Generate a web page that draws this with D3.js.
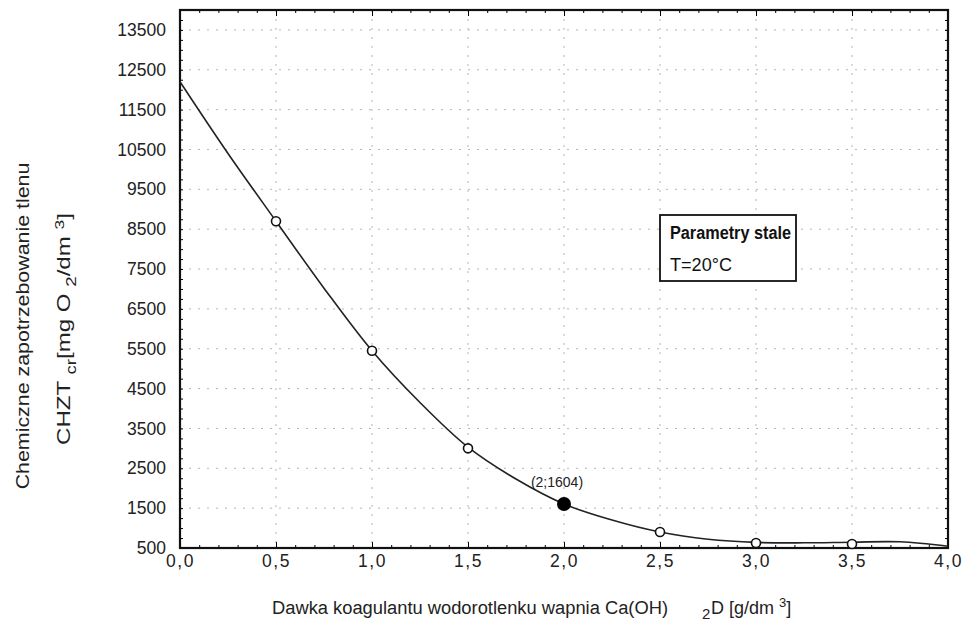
<!DOCTYPE html>
<html><head><meta charset="utf-8">
<script src="https://cdn.jsdelivr.net/npm/d3@7"></script>
<style>body{margin:0;background:#fff}svg{display:block}</style>
</head><body>
<svg id="c" width="965" height="623"></svg>
<script>
// measured points
const doseX = [0.5, 1.0, 1.5, 2.5, 3.0, 3.5];
const codY  = [8700, 5450, 3000, 900, 625, 600];
// highlighted point
const optX = [2];
const optY = [1604];
const optLabel = ["(2;1604)"];
// fitted curve
const fitX = [0, 0.25, 0.5, 0.75, 1.0, 1.25, 1.5, 1.75, 2.0, 2.25, 2.5, 2.75, 3.0, 3.25, 3.5, 3.75, 4.0];
const fitY = [12200, 10400, 8700, 7020, 5450, 4150, 3030, 2230, 1604, 1200, 900, 720, 640, 630, 645, 655, 545];
const xTicks = [0, 0.5, 1.0, 1.5, 2.0, 2.5, 3.0, 3.5, 4.0];
const yTicks = [500, 1500, 2500, 3500, 4500, 5500, 6500, 7500, 8500, 9500, 10500, 11500, 12500, 13500];
const legendTitle = ["Parametry stale"];
const legendText = ["T=20°C"];

const svg = d3.select("#c");
const L = 180, R = 948, T = 10, B = 548;
const x = d3.scaleLinear().domain([0, 4]).range([L, R]);
const y = d3.scaleLinear().domain([500, 14000]).range([B, T]);
const font = "Arial, 'Liberation Sans', sans-serif";
const narrow = "'Liberation Sans Narrow', 'Arial Narrow', " + font;

// grid
const g = svg.append("g");
g.selectAll("line.gy").data(yTicks.slice(1)).join("line")
  .attr("x1", L).attr("x2", R).attr("y1", d => y(d)).attr("y2", d => y(d))
  .attr("stroke", "#b5b5b5").attr("stroke-width", 1).attr("stroke-dasharray", "2,7");
g.selectAll("line.gx").data(xTicks.slice(1, -1)).join("line")
  .attr("y1", T).attr("y2", B).attr("x1", d => x(d)).attr("x2", d => x(d))
  .attr("stroke", "#b5b5b5").attr("stroke-width", 1).attr("stroke-dasharray", "2,7");

// minor ticks (inward) on all sides
const minorY = d3.range(500, 14001, 250);
const minorX = d3.range(0, 4.001, 0.1);
svg.append("g").attr("transform", `translate(${L},0)`)
  .call(d3.axisRight(y).tickValues(minorY).tickSize(3).tickFormat(""))
  .call(s => s.select(".domain").remove());
svg.append("g").attr("transform", `translate(${R},0)`)
  .call(d3.axisLeft(y).tickValues(minorY).tickSize(3).tickFormat(""))
  .call(s => s.select(".domain").remove());
svg.append("g").attr("transform", `translate(0,${B})`)
  .call(d3.axisTop(x).tickValues(minorX).tickSize(3).tickFormat(""))
  .call(s => s.select(".domain").remove());
svg.append("g").attr("transform", `translate(0,${T})`)
  .call(d3.axisBottom(x).tickValues(minorX).tickSize(3).tickFormat(""))
  .call(s => s.select(".domain").remove());
svg.append("g").attr("transform", `translate(0,${B})`)
  .call(d3.axisTop(x).tickValues(xTicks).tickSize(6).tickFormat(""))
  .call(s => s.select(".domain").remove());
svg.append("g").attr("transform", `translate(0,${T})`)
  .call(d3.axisBottom(x).tickValues(xTicks).tickSize(6).tickFormat(""))
  .call(s => s.select(".domain").remove());

// tick labels
const yAx = svg.append("g").attr("transform", `translate(${L},0)`)
  .call(d3.axisLeft(y).tickValues(yTicks).tickSize(0).tickPadding(14).tickFormat(d3.format("d")));
yAx.select(".domain").remove();
yAx.selectAll("text").attr("font-family", font).attr("font-size", 17.5).attr("fill", "#222");
const xAx = svg.append("g").attr("transform", `translate(0,${B})`)
  .call(d3.axisBottom(x).tickValues(xTicks).tickSize(0).tickPadding(7)
    .tickFormat(d => d3.format(".1f")(d).replace(".", ",")));
xAx.select(".domain").remove();
xAx.selectAll("text").attr("font-family", font).attr("font-size", 17.5).attr("fill", "#222")
  .attr("letter-spacing", "1.5px");

// frame
svg.append("rect").attr("x", L).attr("y", T).attr("width", R - L).attr("height", B - T)
  .attr("fill", "none").attr("stroke", "#111").attr("stroke-width", 2.2);

// fitted curve
const line = d3.line().x((d, i) => x(fitX[i])).y((d, i) => y(fitY[i])).curve(d3.curveCatmullRom);
svg.append("path").datum(fitY).attr("d", line).attr("fill", "none")
  .attr("stroke", "#222").attr("stroke-width", 1.6);

// measured points
svg.selectAll("circle.m").data(codY).join("circle")
  .attr("cx", (d, i) => x(doseX[i])).attr("cy", d => y(d)).attr("r", 4.5)
  .attr("fill", "#fff").attr("stroke", "#111").attr("stroke-width", 1.6);
svg.selectAll("circle.o").data(optY).join("circle")
  .attr("cx", (d, i) => x(optX[i])).attr("cy", d => y(d)).attr("r", 7).attr("fill", "#000");
svg.selectAll("text.o").data(optLabel).join("text")
  .attr("x", (d, i) => x(optX[i]) - 7).attr("y", (d, i) => y(optY[i]) - 17)
  .attr("text-anchor", "middle").attr("font-family", font).attr("font-size", 14).attr("fill", "#222")
  .text(d => d);

// legend box
const lg = svg.append("g");
lg.append("rect").attr("x", 660).attr("y", 215).attr("width", 136).attr("height", 66)
  .attr("fill", "#fff").attr("stroke", "#111").attr("stroke-width", 1.8);
lg.append("text").attr("x", 670).attr("y", 239).attr("font-family", narrow)
  .attr("font-weight", "bold").attr("font-size", 18).attr("fill", "#111")
  .attr("textLength", 121).attr("lengthAdjust", "spacingAndGlyphs").text(legendTitle[0]);
lg.append("text").attr("x", 670).attr("y", 271).attr("font-family", narrow)
  .attr("font-size", 18).attr("fill", "#111")
  .attr("textLength", 62).attr("lengthAdjust", "spacingAndGlyphs").text(legendText[0]);

// x axis title
const xt = svg.append("text").attr("y", 614).attr("font-family", font).attr("font-size", 18).attr("fill", "#222");
xt.append("tspan").attr("x", 272).attr("textLength", 396).attr("lengthAdjust", "spacingAndGlyphs")
  .text("Dawka koagulantu wodorotlenku wapnia Ca(OH)");
xt.append("tspan").attr("x", 702).attr("dy", 5).attr("font-size", 15).text("2");
xt.append("tspan").attr("x", 711).attr("dy", -5).text("D [g/dm");
xt.append("tspan").attr("dx", 5).attr("dy", -7).attr("font-size", 13).text("3");
xt.append("tspan").attr("dy", 7).text("]");

// y axis titles (stretched along their length to match the reference)
const t1 = svg.append("g").attr("transform", "translate(29,326) rotate(-90)");
const t1t = t1.append("text").attr("text-anchor", "middle").attr("font-family", font)
  .attr("font-size", 18).attr("fill", "#222").text("Chemiczne zapotrzebowanie tlenu");
const w1 = t1t.node().getComputedTextLength();
t1t.attr("transform", `scale(${327 / w1},1)`);

const t2 = svg.append("g").attr("transform", "translate(70,445) rotate(-90)");
const yt = t2.append("text").attr("font-family", font).attr("font-size", 18).attr("fill", "#222");
yt.append("tspan").text("CHZT ");
yt.append("tspan").attr("dy", 6).attr("font-size", 14).text("cr");
yt.append("tspan").attr("dy", -6).text("[mg O ");
yt.append("tspan").attr("dy", 6).attr("font-size", 14).text("2");
yt.append("tspan").attr("dy", -6).text("/dm ");
yt.append("tspan").attr("dy", -6).attr("font-size", 13).text("3");
yt.append("tspan").attr("dy", 6).text("]");
const w2 = yt.node().getBBox().width;
yt.attr("transform", `scale(${232 / w2},1)`);
</script>
</body></html>
